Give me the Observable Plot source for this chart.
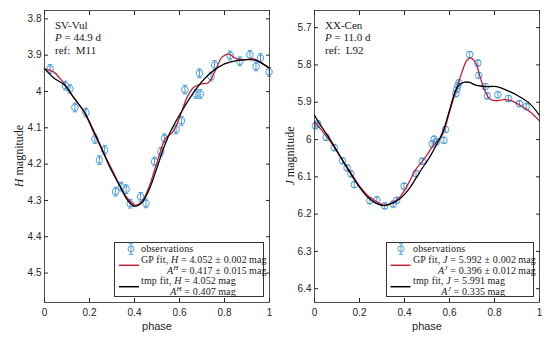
<!DOCTYPE html>
<html><head><meta charset="utf-8">
<script src="https://cdn.jsdelivr.net/npm/d3@7"></script>
<script src="https://cdn.jsdelivr.net/npm/@observablehq/plot@0.6"></script>
<style>
body{margin:0;background:#fff;}
#wrap{position:relative;width:556px;height:348px;overflow:hidden;background:#fff;}
.panel{position:absolute;top:0;}
.ser{font-family:"Liberation Serif","Times New Roman",serif;color:#1a1a1a;}
.ann{position:absolute;font-size:11px;line-height:12.6px;white-space:nowrap;z-index:2;}
.ylab{position:absolute;font-size:12px;transform:translate(-50%,-50%) rotate(-90deg);white-space:nowrap;z-index:2;}
.xlab{position:absolute;font-family:"Liberation Sans",Arial,sans-serif;font-size:11px;color:#262626;transform:translate(-50%,-50%);z-index:2;}
.leg{position:absolute;background:#fff;border:0.8px solid #333;box-sizing:border-box;z-index:3;}
.leg .t{position:absolute;font-size:10px;letter-spacing:0.15px;line-height:9px;white-space:nowrap;}
.leg .blk{position:absolute;font-size:10px;letter-spacing:0.15px;line-height:9px;white-space:nowrap;text-align:right;}
.leg .blk div{display:block;}
.leg .blk div + div{margin-top:2px;}
.leg svg{position:absolute;overflow:visible;}
sup{font-size:7px;vertical-align:0;position:relative;top:-4px;line-height:0;}
</style>
</head><body>
<div id="wrap"></div>
<script>
// ---------- data ----------
const phaseTicks = [0, 0.2, 0.4, 0.6, 0.8, 1];
const hTicks = [3.8, 3.9, 4, 4.1, 4.2, 4.3, 4.4, 4.5];
const jTicks = [5.7, 5.8, 5.9, 6, 6.1, 6.2, 6.3, 6.4];

// SV-Vul (H band)
const svObsPhase = [0.025,0.093,0.113,0.135,0.184,0.224,0.244,0.267,0.316,0.341,0.363,0.381,0.427,0.451,0.489,0.517,0.533,0.585,0.609,0.624,0.673,0.692,0.689,0.740,0.756,0.825,0.868,0.913,0.940,0.960,0.998];
const svObsMag   = [3.938,3.984,3.993,4.044,4.058,4.131,4.189,4.161,4.276,4.262,4.269,4.309,4.290,4.308,4.193,4.166,4.129,4.104,4.081,3.995,4.007,4.007,3.950,3.959,3.927,3.901,3.917,3.899,3.931,3.908,3.946];
const svObsErr = 0.012;
const svGpPhase = [0,0.04,0.077,0.1,0.13,0.175,0.22,0.255,0.3,0.35,0.38,0.405,0.43,0.46,0.49,0.514,0.536,0.573,0.603,0.633,0.662,0.692,0.729,0.759,0.788,0.818,0.848,0.877,0.929,0.959,1];
const svGpMag   = [3.938,3.946,3.97,3.989,4.017,4.055,4.115,4.16,4.215,4.278,4.302,4.313,4.305,4.27,4.215,4.168,4.131,4.109,4.067,4.017,3.989,3.98,3.975,3.943,3.906,3.897,3.908,3.913,3.910,3.92,3.936];
const svTmpPhase = [0,0.04,0.09,0.13,0.175,0.22,0.255,0.29,0.335,0.37,0.40,0.43,0.465,0.5,0.53,0.56,0.62,0.68,0.74,0.80,0.855,0.93,0.96,1];
const svTmpMag   = [3.937,3.962,3.983,4.017,4.055,4.11,4.158,4.208,4.26,4.3,4.316,4.308,4.27,4.21,4.155,4.11,4.044,3.988,3.948,3.924,3.915,3.913,3.92,3.936];

// XX-Cen (J band)
const xxObsPhase = [0.004,0.014,0.052,0.088,0.124,0.145,0.162,0.177,0.246,0.277,0.312,0.350,0.365,0.398,0.451,0.479,0.523,0.532,0.541,0.575,0.582,0.628,0.632,0.637,0.642,0.690,0.726,0.730,0.759,0.768,0.815,0.862,0.911,0.941];
const xxObsMag   = [5.963,5.958,5.994,6.022,6.057,6.076,6.092,6.121,6.164,6.162,6.178,6.173,6.163,6.125,6.091,6.058,6.012,5.999,6.006,6.002,5.973,5.877,5.866,5.856,5.848,5.772,5.795,5.828,5.858,5.883,5.880,5.890,5.904,5.912];
const xxObsErr = 0.008;
const xxGpPhase = [0,0.025,0.07,0.114,0.159,0.203,0.24,0.277,0.307,0.344,0.381,0.42,0.448,0.49,0.529,0.566,0.603,0.625,0.655,0.675,0.692,0.714,0.736,0.759,0.781,0.81,0.84,0.87,0.914,0.959,1];
const xxGpMag   = [5.953,5.97,6.005,6.046,6.087,6.127,6.152,6.167,6.176,6.17,6.153,6.115,6.082,6.05,6.015,5.99,5.92,5.877,5.82,5.79,5.781,5.792,5.832,5.872,5.892,5.896,5.893,5.895,5.908,5.926,5.95];
const xxTmpPhase = [0,0.025,0.07,0.114,0.159,0.203,0.24,0.277,0.307,0.344,0.381,0.425,0.47,0.514,0.544,0.573,0.603,0.625,0.645,0.668,0.69,0.72,0.766,0.81,0.855,0.914,0.959,1];
const xxTmpMag   = [5.935,5.96,6.0,6.045,6.09,6.13,6.157,6.172,6.177,6.171,6.158,6.128,6.085,6.045,6.012,5.975,5.915,5.872,5.852,5.846,5.847,5.855,5.858,5.858,5.868,5.886,5.905,5.935];

// ---------- drawing ----------
const BLUE = "#4a9fdc", RED = "#c2203a", INK = "#262626";
const capSymbol = {draw(ctx, size){ const w = Math.sqrt(size/Math.PI); ctx.moveTo(-w,0); ctx.lineTo(w,0); }};
const zip = (p, m) => p.map((v,i) => ({phase: v, mag: m[i]}));

function panel({obsP, obsM, err, gpP, gpM, tmP, tmM, ydomain, yticks, marginLeft, marginRight}) {
  const obs = zip(obsP, obsM), gp = zip(gpP, gpM), tmp = zip(tmP, tmM);
  const fmt = d => String(d);
  return Plot.plot({
    width: 278, height: 348, marginTop: 10, marginBottom: 46, marginLeft, marginRight,
    style: {fontFamily: "'Liberation Sans', Arial, sans-serif", fontSize: "10px", color: INK, background: "transparent", overflow: "visible"},
    x: {domain: [0, 1]},
    y: {domain: ydomain, reverse: true},
    marks: [
      Plot.ruleX(obs, {x: "phase", y1: d => d.mag - err, y2: d => d.mag + err, stroke: BLUE, strokeWidth: 1}),
      Plot.dot(obs, {x: "phase", y: d => d.mag - err, symbol: capSymbol, r: 2.2, stroke: BLUE, strokeWidth: 1}),
      Plot.dot(obs, {x: "phase", y: d => d.mag + err, symbol: capSymbol, r: 2.2, stroke: BLUE, strokeWidth: 1}),
      Plot.dot(obs, {x: "phase", y: "mag", r: 3.3, stroke: BLUE, fill: "none", strokeWidth: 1}),
      Plot.line(gp, {x: "phase", y: "mag", stroke: RED, strokeWidth: 1.3, curve: "catmull-rom"}),
      Plot.line(tmp, {x: "phase", y: "mag", stroke: "#000", strokeWidth: 1.3, curve: "catmull-rom"}),
      Plot.axisX({ticks: phaseTicks, anchor: "bottom", tickSize: -4, tickPadding: 10, tickFormat: fmt, label: null, stroke: INK, fill: INK}),
      Plot.axisX({ticks: phaseTicks, anchor: "top", tickSize: -4, tickFormat: () => "", label: null, stroke: INK}),
      Plot.axisY({ticks: yticks, anchor: "left", tickSize: -4, tickPadding: 7, tickFormat: fmt, label: null, stroke: INK, fill: INK}),
      Plot.axisY({ticks: yticks, anchor: "right", tickSize: -4, tickFormat: () => "", label: null, stroke: INK}),
      Plot.frame({stroke: INK, strokeWidth: 0.8})
    ]
  });
}

const wrap = document.getElementById("wrap");
const left = panel({obsP: svObsPhase, obsM: svObsMag, err: svObsErr, gpP: svGpPhase, gpM: svGpMag, tmP: svTmpPhase, tmM: svTmpMag,
  ydomain: [3.777, 4.581], yticks: hTicks, marginLeft: 44, marginRight: 9});
left.classList.add("panel"); left.style.left = "0px";
wrap.appendChild(left);
const right = panel({obsP: xxObsPhase, obsM: xxObsMag, err: xxObsErr, gpP: xxGpPhase, gpM: xxGpMag, tmP: xxTmpPhase, tmM: xxTmpMag,
  ydomain: [5.654, 6.437], yticks: jTicks, marginLeft: 36, marginRight: 17});
right.classList.add("panel"); right.style.left = "278px";
wrap.appendChild(right);

function add(html){ const t = document.createElement("template"); t.innerHTML = html.trim(); wrap.appendChild(t.content.firstChild); return wrap.lastChild; }

// annotations
add(`<div class="ann ser" style="left:55px;top:18.5px">SV-Vul<br><i>P</i> = 44.9 d<br>ref:&nbsp; M11</div>`);
add(`<div class="ann ser" style="left:325px;top:18.5px">XX-Cen<br><i>P</i> = 11.0 d<br>ref:&nbsp; L92</div>`);
add(`<div class="ylab ser" style="left:19px;top:156px"><i>H</i> magnitude</div>`);
add(`<div class="ylab ser" style="left:289.5px;top:156px"><i>J</i> magnitude</div>`);
add(`<div class="xlab" style="left:157px;top:326px">phase</div>`);
add(`<div class="xlab" style="left:427px;top:326px">phase</div>`);

function legend(x, w, band, gpVal, gpAmp, tmVal, tmAmp, iconX, textX, lineX) {
  const el = add(`<div class="leg ser" style="left:${x}px;top:242px;width:${w}px;height:55px">
    <svg style="left:0;top:0" width="${w}" height="55"></svg>
    <div class="t" style="left:${textX}px;top:1.3px">observations</div>
    <div class="blk" style="left:${textX}px;top:12.3px"><div>GP fit, <i>${band}</i> = ${gpVal} ± 0.002&thinsp;mag</div><div><i>A</i><sup><i>${band}</i></sup> = ${gpAmp}&thinsp;mag</div></div>
    <div class="blk" style="left:${textX}px;top:33px"><div>tmp fit, <i>${band}</i> = ${tmVal}&thinsp;mag</div><div><i>A</i><sup><i>${band}</i></sup> = ${tmAmp}&thinsp;mag</div></div>
  </div>`);
  const cy = 5.8;
  el.querySelector("svg").innerHTML =
    `<line x1="${iconX}" y1="${cy-5.5}" x2="${iconX}" y2="${cy+5.5}" stroke="${BLUE}"/>` +
    `<line x1="${iconX-2.2}" y1="${cy-5.5}" x2="${iconX+2.2}" y2="${cy-5.5}" stroke="${BLUE}"/>` +
    `<line x1="${iconX-2.2}" y1="${cy+5.5}" x2="${iconX+2.2}" y2="${cy+5.5}" stroke="${BLUE}"/>` +
    `<circle cx="${iconX}" cy="${cy}" r="3" fill="none" stroke="${BLUE}"/>` +
    `<line x1="${lineX}" y1="22.3" x2="${lineX+20}" y2="22.3" stroke="${RED}" stroke-width="1.5"/>` +
    `<line x1="${lineX}" y1="43.7" x2="${lineX+20}" y2="43.7" stroke="#000" stroke-width="1.5"/>`;
}
legend(114, 150, "H", "4.052", "0.417 ± 0.015", "4.052", "0.407", 16, 26, 4);
legend(386, 148, "J", "5.992", "0.396 ± 0.012", "5.991", "0.335", 14, 26, 3.5);
</script>
</body></html>
